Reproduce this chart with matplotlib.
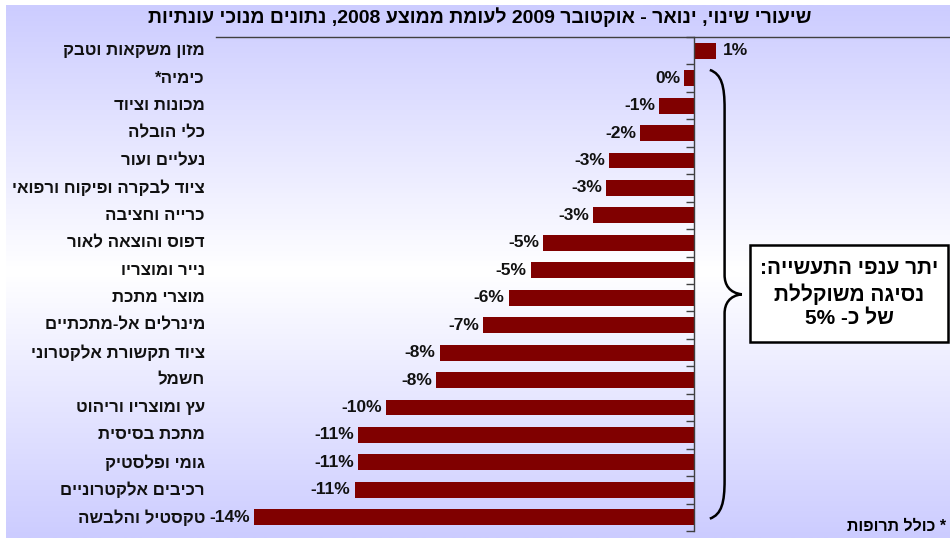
import re
import numpy as np
import matplotlib
matplotlib.use('Agg')
import matplotlib.pyplot as plt
from matplotlib.path import Path
from matplotlib.patches import PathPatch, Rectangle

plt.rcParams['font.family'] = ['Liberation Sans', 'DejaVu Sans']

TITLE = 'שיעורי שינוי, ינואר - אוקטובר 2009 לעומת ממוצע 2008, נתונים מנוכי עונתיות'
categories = [
    'מזון משקאות וטבק',
    'כימיה*',
    'מכונות וציוד',
    'כלי הובלה',
    'נעליים ועור',
    'ציוד לבקרה ופיקוח ורפואי',
    'כרייה וחציבה',
    'דפוס והוצאה לאור',
    'נייר ומוצריו',
    'מוצרי מתכת',
    'מינרלים אל-מתכתיים',
    'ציוד תקשורת אלקטרוני',
    'חשמל',
    'עץ ומוצריו וריהוט',
    'מתכת בסיסית',
    'גומי ופלסטיק',
    'רכיבים אלקטרוניים',
    'טקסטיל והלבשה',
]
values = [0.7, -0.3, -1.1, -1.7, -2.7, -2.8, -3.2, -4.8, -5.2, -5.9,
          -6.7, -8.1, -8.2, -9.8, -10.7, -10.7, -10.8, -14.0]
BOX_TEXT = 'יתר ענפי התעשייה:\nנסיגה משוקללת\nשל כ- 5%'
FOOTNOTE = '* כולל תרופות'

BAR_COLOR = '#800000'
LAVENDER = np.array([204, 204, 255]) / 255.0


def rtl(s):
    # crude visual reordering for right-to-left text, keeping numbers LTR
    out = []
    for line in s.split('\n'):
        parts = re.findall(r'[0-9]+(?:[.,][0-9]+)*%?|[^0-9]', line)
        out.append(''.join(reversed(parts)))
    return '\n'.join(out)


W, H = 950, 538
fig = plt.figure(figsize=(W / 100, H / 100), dpi=100)
fig.patch.set_facecolor('white')

# background gradient: lavender at top and bottom, white in the middle
bg = fig.add_axes([6 / W, 0, (W - 6) / W, (H - 5) / H])
t = np.linspace(0, 1, 400)
k = np.abs(2 * t - 1)[:, None]
grad = 1 - (1 - LAVENDER[None, :]) * k
bg.imshow(grad[:, None, :], aspect='auto', extent=[0, 1, 0, 1])
bg.set_axis_off()
bg.set_zorder(-1)

ax_l, ax_r, ax_t, ax_b = 216, 950, 37, 531
ax = fig.add_axes([ax_l / W, (H - ax_b) / H, (ax_r - ax_l) / W, (ax_b - ax_t) / H])
ax.patch.set_alpha(0)

n = len(categories)
y = np.arange(n)
ax.barh(y, values, height=0.58, color=BAR_COLOR, zorder=3)

ax.set_xlim(-15.22, 8.16)
ax.set_ylim(n - 0.5, -0.5)

for s in ['right', 'bottom']:
    ax.spines[s].set_visible(False)
ax.spines['top'].set_color('#404040')
ax.spines['top'].set_linewidth(1.0)
ax.spines['left'].set_position(('data', 0))
ax.spines['left'].set_color('#404040')
ax.spines['left'].set_linewidth(1.0)
ax.spines['left'].set_zorder(4)
ax.set_xticks([])
ax.set_yticks(np.arange(n + 1) - 0.5)
ax.set_yticklabels([])
ax.tick_params(axis='y', direction='out', length=6, width=1, color='#404040')

ytr = ax.get_yaxis_transform()
for yi, cat in zip(y, categories):
    ax.text(-0.015, yi, rtl(cat), transform=ytr, ha='right', va='center',
            fontsize=12.2, fontweight='bold', color='#111111', clip_on=False)

for yi, v in zip(y, values):
    lab = f'{int(round(v))}%'
    if v >= 0:
        ax.annotate(lab, (v, yi), xytext=(5, 0), textcoords='offset points',
                    ha='left', va='center', fontsize=12.5, fontweight='bold',
                    color='#111111', annotation_clip=False)
    else:
        ax.annotate(lab, (v, yi), xytext=(-3, 0), textcoords='offset points',
                    ha='right', va='center', fontsize=12.5, fontweight='bold',
                    color='#111111', annotation_clip=False)

# curly brace grouping all branches except the first
top, bot = 1 - 0.3, n - 1 + 0.05
mid = (top + bot) / 2
x0, x1, xt = 0.51, 0.98, 1.53
verts = [
    (x0, top),
    (x0 + 0.38, top + 0.15), (x1, top + 0.6), (x1, top + 1.4),
    (x1, mid - 0.7),
    (x1, mid - 0.35), (x1 + 0.15, mid - 0.05), (xt, mid),
    (x1 + 0.15, mid + 0.05), (x1, mid + 0.35), (x1, mid + 0.7),
    (x1, bot - 1.4),
    (x1, bot - 0.6), (x0 + 0.38, bot - 0.15), (x0, bot),
]
codes = [Path.MOVETO,
         Path.CURVE4, Path.CURVE4, Path.CURVE4,
         Path.LINETO,
         Path.CURVE4, Path.CURVE4, Path.CURVE4,
         Path.CURVE4, Path.CURVE4, Path.CURVE4,
         Path.LINETO,
         Path.CURVE4, Path.CURVE4, Path.CURVE4]
ax.add_patch(PathPatch(Path(verts, codes), facecolor='none', edgecolor='black',
                       lw=1.8, clip_on=False, zorder=5))

# text box
bx0, bx1 = (750 - ax_l) / (ax_r - ax_l), (948 - ax_l) / (ax_r - ax_l)
by0, by1 = (ax_b - 342) / (ax_b - ax_t), (ax_b - 245) / (ax_b - ax_t)
ax.add_patch(Rectangle((bx0, by0), bx1 - bx0, by1 - by0, transform=ax.transAxes,
                       facecolor='white', edgecolor='black', lw=1.8,
                       clip_on=False, zorder=5))
ax.text((bx0 + bx1) / 2, (by0 + by1) / 2, rtl(BOX_TEXT), transform=ax.transAxes,
        ha='center', va='center', fontsize=15, fontweight='bold',
        linespacing=1.3, zorder=6)

fig.text(480 / W, 1 - 17 / H, rtl(TITLE), ha='center', va='center',
         fontsize=14, fontweight='bold',
         family=['Liberation Sans Narrow', 'Liberation Sans', 'DejaVu Sans'])
fig.text(946 / W, 12 / H, rtl(FOOTNOTE), ha='right', va='center',
         fontsize=11.5, fontweight='bold')

fig.savefig('out.png', dpi=100)
